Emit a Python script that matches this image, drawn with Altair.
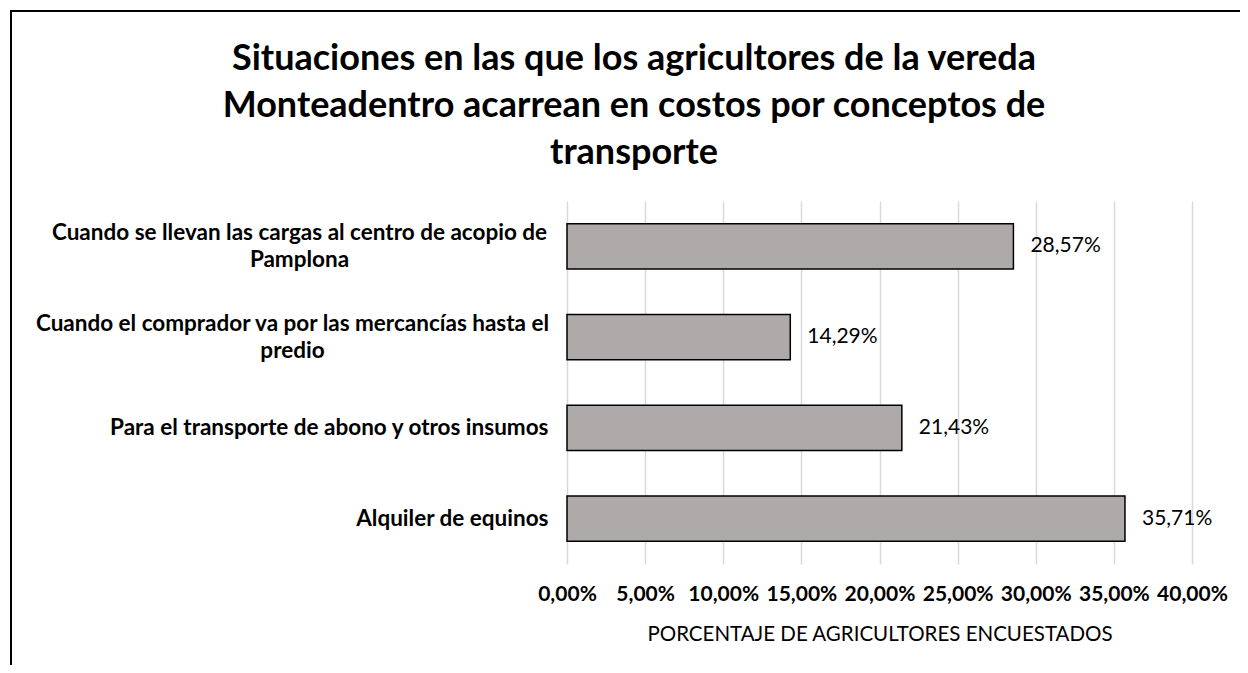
import altair as alt
import pandas as pd

categories = [
    "Cuando se llevan las cargas al centro de acopio de\nPamplona",
    "Cuando el comprador va por las mercancías hasta el\npredio",
    "Para el transporte de abono y otros insumos",
    "Alquiler de equinos",
]
values = [0.2857, 0.1429, 0.2143, 0.3571]
x_ticks = [0, 0.05, 0.10, 0.15, 0.20, 0.25, 0.30, 0.35, 0.40]
title_lines = [
    "Situaciones en las que los agricultores de la vereda",
    "Monteadentro acarrean en costos por conceptos de",
    "transporte",
]
x_title = "PORCENTAJE DE AGRICULTORES ENCUESTADOS"

df = pd.DataFrame({"cat": categories, "value": values})

FONT = "Lato"
W, H = 625, 363

base = alt.Chart(df).transform_calculate(
    label="replace(format(datum.value, '.2%'), '.', ',')"
)

multi_test = "indexof(datum.value, '\\n') >= 0"

y_enc = alt.Y(
    "cat:N",
    sort=categories,
    scale=alt.Scale(paddingInner=0.5, paddingOuter=0.25),
    axis=alt.Axis(
        title=None, domain=False, ticks=False,
        labelAlign={"condition": {"test": multi_test, "value": "center"}, "value": "right"},
        labelPadding={
            "condition": [
                {"test": "indexof(datum.value, 'Pamplona') >= 0", "value": 268},
                {"test": "indexof(datum.value, 'predio') >= 0", "value": 275},
            ],
            "value": 19,
        },
        labelOffset={"condition": {"test": multi_test, "value": -13.5}, "value": 0},
        labelFontSize=22.5, labelFontWeight="bold",
        labelColor="black", labelFont=FONT, labelLineHeight=27,
        labelLimit=700, labelExpr="split(datum.label, '\\n')",
    ),
)

x_enc = alt.X(
    "value:Q",
    scale=alt.Scale(domain=[0, 0.4], nice=False),
    axis=alt.Axis(
        values=x_ticks, title=x_title, domain=False, ticks=False,
        grid=True, gridColor="#d9d9d9", gridWidth=1.5,
        labelExpr="replace(format(datum.value, '.2%'), '.', ',')",
        labelFontSize=21, labelFontWeight="bold", labelColor="black",
        labelFont=FONT, labelPadding=19, labelFlush=False,
        titleFont=FONT, titleFontSize=20.5, titleFontWeight="normal",
        titleColor="black", titlePadding=20,
    ),
)

bars = base.mark_bar(fill="#AEAAAA", stroke="black", strokeWidth=1.5).encode(
    x=x_enc, y=y_enc
)

texts = base.mark_text(
    align="left", baseline="middle", dx=17, fontSize=21, font=FONT, color="black"
).encode(x="value:Q", y=alt.Y("cat:N", sort=categories), text="label:N")

frame_top = alt.Chart(df).mark_rule(color="black", strokeWidth=2).encode(
    x=alt.value(-557), x2=alt.value(W + 60), y=alt.value(-190)
)
frame_left = alt.Chart(df).mark_rule(color="black", strokeWidth=2).encode(
    x=alt.value(-556), y=alt.value(-191), y2=alt.value(H + 120)
)

chart = alt.layer(bars, texts, frame_top, frame_left).properties(
    width=W,
    height=H,
    autosize=alt.AutoSizeParams(type="none"),
    padding={"left": 559, "top": 193, "right": 48, "bottom": 101},
    title=alt.TitleParams(
        text=title_lines, font=FONT, fontSize=36, fontWeight="bold",
        color="black", anchor="middle", frame="group", dx=-245.5,
        offset=-162.5, lineHeight=47,
    ),
).configure_view(stroke=None)

chart.save("out.html", embed_options={"renderer": "svg", "actions": False})
